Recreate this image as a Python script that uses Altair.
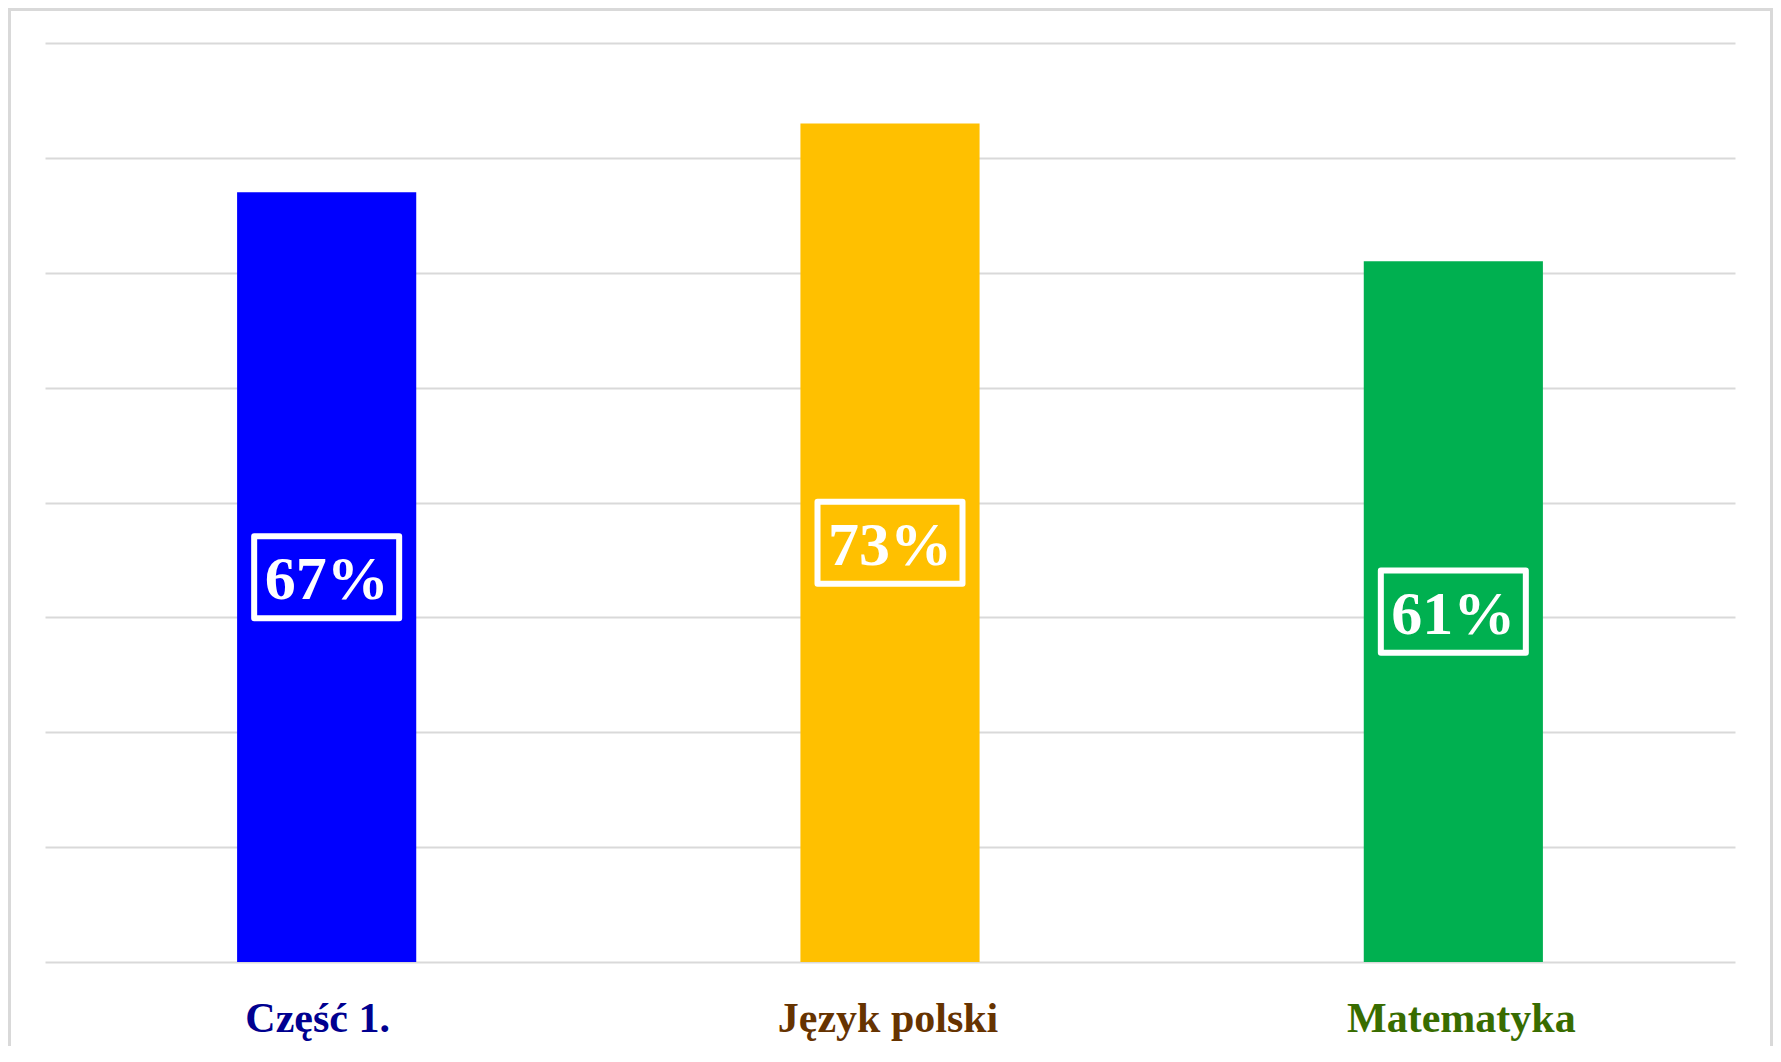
import altair as alt
import pandas as pd

categories = ["Część 1.", "Język polski", "Matematyka"]
values = [67, 73, 61]
bar_colors = ["#0000FF", "#FFC000", "#00B050"]
label_colors = ["#000090", "#663300", "#386C00"]
y_ticks = [0, 10, 20, 30, 40, 50, 60, 70, 80]

df = pd.DataFrame({"cat": categories, "value": values})

color_expr = (
    f"datum.value == '{categories[0]}' ? '{label_colors[0]}' : "
    f"datum.value == '{categories[1]}' ? '{label_colors[1]}' : '{label_colors[2]}'"
)
offset_expr = (
    f"datum.value == '{categories[0]}' ? -9 : "
    f"datum.value == '{categories[2]}' ? 8 : -2"
)

x_enc = alt.X(
    "cat:N",
    sort=categories,
    title=None,
    scale=alt.Scale(paddingInner=0.682, paddingOuter=0.341),
    axis=alt.Axis(
        domain=False,
        ticks=False,
        tickSize=0,
        grid=False,
        labelAngle=0,
        labelLimit=0,
        labelFont="Liberation Serif",
        labelFontWeight="bold",
        labelFontSize=42,
        labelBaseline="alphabetic",
        labelPadding=69,
        labelColor=alt.ExprRef(expr=color_expr),
        labelOffset=alt.ExprRef(expr=offset_expr),
    ),
)

base = alt.Chart(df).encode(x=x_enc)

bars = base.mark_bar().encode(
    y=alt.Y(
        "value:Q",
        title=None,
        scale=alt.Scale(domain=[0, 80], nice=False),
        axis=alt.Axis(
            values=y_ticks,
            labels=False,
            ticks=False,
            domain=False,
            gridColor="#D9D9D9",
            gridWidth=2,
        ),
    ),
    color=alt.Color(
        "cat:N",
        scale=alt.Scale(domain=categories, range=bar_colors),
        legend=None,
    ),
)

mid = base.transform_calculate(
    mid="datum.value / 2", label="datum.value + '%'"
)

boxes = mid.mark_point(
    shape="M-1,-0.566L1,-0.566L1,0.566L-1,0.566Z",
    size=21025,
    filled=False,
    stroke="white",
    strokeWidth=6,
    strokeJoin="round",
    opacity=1,
).encode(y="mid:Q")

texts = mid.mark_text(
    font="Liberation Serif",
    fontWeight="bold",
    fontSize=62,
    color="white",
    baseline="middle",
    dy=3,
).encode(y="mid:Q", text="label:N")

frame = alt.Chart(pd.DataFrame({"k": [0]})).mark_rect(
    filled=False, stroke="#D9D9D9", strokeWidth=3, clip=False
).encode(
    x=alt.value(-35.5),
    x2=alt.value(1726.5),
    y=alt.value(-33.5),
    y2=alt.value(1100),
)

chart = (
    alt.layer(frame, bars, boxes, texts)
    .properties(
        width=1690,
        height=919,
        autosize=alt.AutoSizeParams(type="none"),
        padding={"left": 37, "top": 35, "right": 38, "bottom": 84},
        background="white",
    )
    .configure_view(stroke=None)
)

chart.save("out.html", embed_options={"renderer": "svg", "actions": False})
